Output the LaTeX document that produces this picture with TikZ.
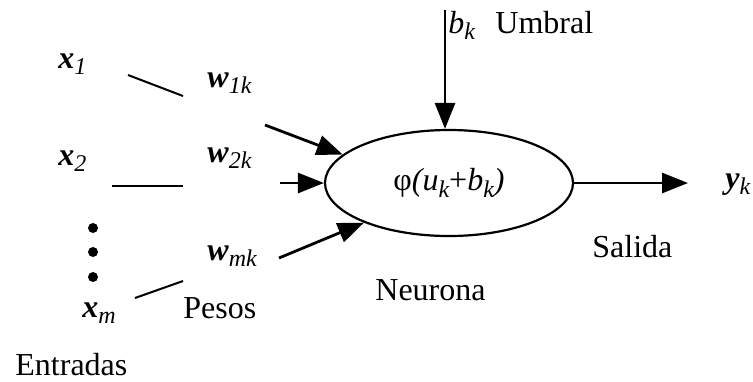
\documentclass[tikz,border=0pt]{standalone}
\usepackage{fontspec}
\setmainfont{Liberation Serif}
\usetikzlibrary{arrows.meta, positioning, shapes.geometric}
\tikzset{every node/.style={font=\fontsize{16}{19}\selectfont}}
\newcommand{\subtx}[1]{\raisebox{-0.2em}{\fontsize{12}{12}\selectfont\itshape #1}}
\newcommand{\bx}[2]{\textbf{\textit{#1}}\subtx{#2}}

\begin{document}
\begin{tikzpicture}[
        x=0.5pt, y=-0.5pt,
        >={Triangle[length=13pt, width=10pt]},
        lbl/.style={inner sep=0pt, anchor=base west},
        wire/.style={line width=1pt},
        feed/.style={->, line width=1.4pt},
        dot/.style={circle, fill, inner sep=0pt, minimum size=5pt},
      ]
        \useasboundingbox (0,0) rectangle (753,381);
        \node[draw, ellipse, line width=1.1pt, minimum width=124pt, minimum height=53pt, inner sep=0pt] (neuron) at (449,183)
          {φ\textit{(u}\subtx{k}+\textit{b}\subtx{k}\textit{)}};
        % inputs and weights
        \node[lbl] (x1) at (58,68) {\bx{x}{1}};
        \node[lbl] (x2) at (58,165) {\bx{x}{2}};
        \node[lbl] (xm) at (82,317) {\bx{x}{m}};
        \node[lbl] (w1) at (207,87) {\bx{w}{1k}};
        \node[lbl] (w2) at (207,162) {\bx{w}{2k}};
        \node[lbl] (wm) at (207,260) {\bx{w}{mk}};
        \foreach \y [count=\i] in {228,252,277}
          \node[dot] (d\i) at (93,\y) {};
        \node[lbl] (pesos) at (183,318) {Pesos};
        \node[lbl] (entradas) at (15,375) {Entradas};
        \node[lbl] (neurona) at (375,300) {Neurona};
        \node[lbl] (salida) at (592,257) {Salida};
        \node[lbl] (bk) at (448,33) {\textit{b}\subtx{k}};
        \node[lbl] (umbral) at (495,33) {Umbral};
        \node[lbl] (yk) at (725,188) {\textbf{\textit{y}}\subtx{k}};
        % free ends
        \coordinate (l1a) at (128,75);
        \coordinate (l1b) at (183,96);
        \coordinate (l2a) at (112,186);
        \coordinate (l2b) at (183,186);
        \coordinate (lma) at (135,298);
        \coordinate (lmb) at (183,281);
        \coordinate (a1) at (265,125);
        \coordinate (a2) at (280,183);
        \coordinate (a3) at (279,258);
        \coordinate (bias) at (445,10);
        \coordinate (out) at (688,183);
        \draw[wire] (l1a) -- (l1b);
        \draw[wire] (l2a) -- (l2b);
        \draw[wire] (lma) -- (lmb);
        \draw[feed] (a1) -- (neuron.165);
        \draw[feed] (a2) -- (neuron.west);
        \draw[feed] (a3) -- (neuron.205);
        \draw[feed] (bias) -- (bias |- neuron.north);
        \draw[feed] (neuron.east) -- (out);
      \end{tikzpicture}
\end{document}
